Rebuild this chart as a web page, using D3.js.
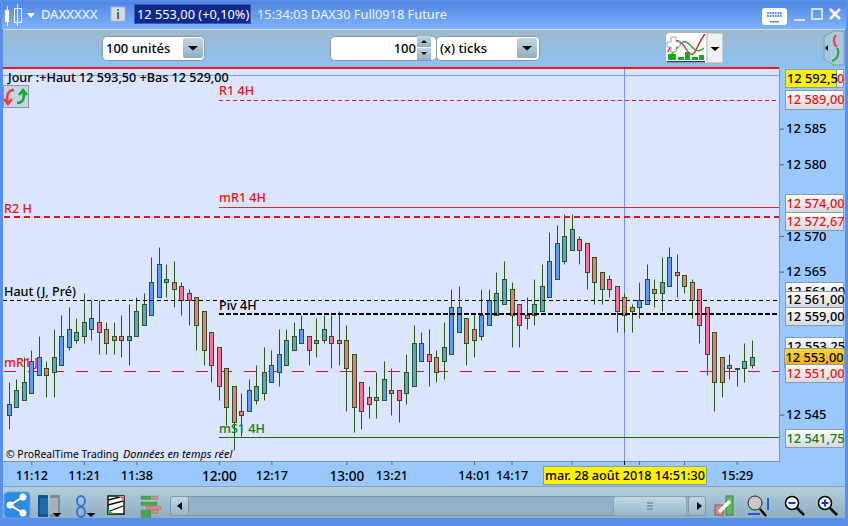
<!DOCTYPE html>
<html><head><meta charset="utf-8">
<style>html,body{margin:0;padding:0;background:#5b8ee6;overflow:hidden}svg{display:block}text{font-family:"Noto Sans",sans-serif}</style>
<script src="https://cdn.jsdelivr.net/npm/d3@7"></script></head><body><script>
const opens=[12545,12546,12547,12548,12550.5,12551.5,12551,12552,12554.5,12555.5,12556,12557,12558,12557,12556,12556,12555.5,12556,12557.5,12559,12561.5,12563.5,12563.5,12563,12562,12561.5,12559.5,12556.5,12554.5,12551.5,12549,12545.5,12545.5,12547,12548,12549.5,12551,12552,12554,12555,12556,12555,12555.5,12556,12555.5,12555.5,12553.5,12549.5,12547.5,12547,12547,12548.5,12548.5,12548,12549,12552.5,12553.5,12553,12552.5,12553.5,12556.5,12558.5,12557,12556,12557.5,12559,12560.5,12562.5,12560.5,12559,12559,12559.5,12561.5,12564,12566.5,12568,12569.5,12569,12567,12565,12564,12563,12561.5,12560,12560,12560.5,12562.5,12562,12563,12565,12564.5,12563.5,12562.5,12560,12556.5,12553,12551.5,12551.5,12551.5,12552];
const highs=[12549.5,12550,12553,12554,12556,12552.5,12557,12559,12560,12558.5,12562,12561,12561,12558,12558,12559,12560.5,12561.5,12562,12567,12568.5,12566,12566.5,12563.5,12562.5,12561.5,12559.5,12556.5,12554.5,12551.5,12549,12548,12550,12552,12554.5,12554,12557,12557,12558,12559,12556,12558.5,12559,12559,12559.5,12557.5,12553.5,12549.5,12549,12551,12552.5,12551.5,12548.5,12553.5,12557.5,12556.5,12557,12554,12558,12562.5,12563,12558.5,12559,12562.5,12562.5,12565,12566.5,12563.5,12560.5,12561.5,12564,12566,12570.5,12571.5,12573,12573,12570,12569,12567,12565,12564.5,12563,12562,12560.5,12563.5,12566,12564,12567,12568.5,12567.5,12564.5,12564,12562.5,12560,12556.5,12553,12553.5,12551.5,12555,12555.5];
const lows=[12543,12546,12547,12548,12550.5,12547.5,12547.5,12552,12554,12555,12555,12555.5,12553.5,12553.5,12553.5,12553,12552,12556,12557.5,12559,12561.5,12561.5,12560,12559,12557.5,12554,12552,12549.5,12547,12543.5,12540,12542,12545.5,12546.5,12547,12549.5,12549,12552,12554,12555,12552,12553,12555,12551.5,12552,12545.5,12542.5,12543,12544.5,12544.5,12547,12545,12544,12546.5,12549,12552.5,12549,12549.5,12550,12553.5,12556.5,12552,12553,12555.5,12557.5,12559,12560.5,12554.5,12554.5,12557,12557.5,12559.5,12561.5,12564,12566,12568,12566,12562.5,12560.5,12560.5,12561.5,12556.5,12556.5,12556.5,12558.5,12560.5,12560,12559.5,12563,12561.5,12562,12558.5,12555,12550.5,12545.5,12547.5,12550,12549,12549.5,12551.5];
const closes=[12546.5,12548.5,12549.5,12552.5,12553,12550.5,12553,12556,12557,12556.5,12558,12558.5,12556.5,12555,12555.5,12555.5,12556,12559.5,12560.5,12563.5,12566,12564,12562.5,12561,12561,12557.5,12554,12552,12549,12546,12544,12545,12548.5,12549,12551,12552,12553.5,12555.5,12556,12557,12554,12555.5,12557,12555,12555,12551.5,12546,12545.5,12546.5,12547.5,12550,12548,12547,12551,12555,12555,12552.5,12551,12554.5,12560,12560,12555,12555.5,12559,12561,12562,12564,12559,12557.5,12558.5,12560.5,12563,12566.5,12569,12570,12571,12568,12565,12563.5,12562.5,12562.5,12559.5,12559,12559.5,12561,12564,12562,12563.5,12567,12564.5,12563,12561,12557.5,12553.5,12549.5,12549.5,12552,12551.5,12552.5,12553];
const priceTicks=[12585,12580,12570,12565,12545];
const timeTickIdx=[3,10,17,28,35,45,51,62,67,75,84,90,97];
const timeTickLab=["11:12","11:21","11:38","12:00","12:17","13:00","13:21","14:01","14:17","","","","15:29"];
const levelNames=["Haut jour","Crosshair","R1 4H","mR1 4H","R2 H","Haut (J, Pré)","Piv 4H","mR1 J","mS1 4H"];
const levelValues=[12593.5,12592.5,12589,12574,12572.67,12561,12559,12551,12541.75];
const titleLine="Jour :+Haut 12 593,50 +Bas 12 529,00";

const W=848,H=526,FS=12.6;
const svg=d3.select("body").append("svg").attr("width",W).attr("height",H);
const defs=svg.append("defs");
function grad(id,stops){const g=defs.append("linearGradient").attr("id",id).attr("x1",0).attr("y1",0).attr("x2",0).attr("y2",1);
 stops.forEach(([o,c])=>g.append("stop").attr("offset",o).attr("stop-color",c));}
grad("gTitle",[[0,"#4f86e4"],[1,"#7fb3fb"]]);
grad("gTool",[[0,"#9cb9cb"],[1,"#8cc1f7"]]);
grad("gBot",[[0,"#b3d0dc"],[1,"#8eaec2"]]);
grad("gBox",[[0,"#ffffff"],[1,"#d5d8de"]]);
grad("gBtn",[[0,"#c4d8e2"],[1,"#8fb0c2"]]);
grad("gOrange",[[0,"#ffd83a"],[1,"#f0a800"]]);
grad("gThumb",[[0,"#c0d8e2"],[1,"#98b8ca"]]);

const rect=(x,y,w,h,f,o={})=>svg.append("rect").attr("x",x).attr("y",y).attr("width",w).attr("height",h).attr("fill",f).attr("stroke",o.s||"none").attr("stroke-width",o.sw||1).attr("rx",o.r||0);
const text=(x,y,t,o={})=>svg.append("text").attr("x",x).attr("y",y).text(t).attr("font-size",o.fs||FS).attr("fill",o.f||"#000").attr("font-weight",o.w||500).attr("font-style",o.i?"italic":"normal").attr("text-anchor",o.a||"start").attr("font-family",o.ff||null);
const path=(d,o={})=>svg.append("path").attr("d",d).attr("fill",o.f||"none").attr("stroke",o.s||"none").attr("stroke-width",o.sw||1).attr("stroke-linecap",o.c||"butt");
const tri=(x,y,w,h,f)=>path(`M${x-w},${y}h${2*w}l${-w},${h}z`,{f:f||"#000"});

// window chrome
rect(0,0,W,H,"#5b8ee6");
rect(2,2,W-4,27,"url(#gTitle)");
rect(3,30,W-6,38,"url(#gTool)");
rect(3,29,W-6,1,"#c9dcf0");
rect(780,68,65,393,"#99c8ff");
rect(3,461,842,25,"#99c8ff");
rect(3,486,842,32,"url(#gBot)");
rect(3,486,842,1,"#8aa0b0");

// plot area
rect(3,68,776,393,"#dbe5ff");
rect(779,68,1,394,"#7f94a8");
rect(3,461,777,1,"#7f94a8");

const x=d3.scaleLinear().domain([0,99]).range([9.3,752.1]);
const y=d3.scaleLinear().domain([12585,12545]).range([128.6,414.6]);
const lvY=l=>l.w==2?Math.round(y(levelValues[l.i])-.1):Math.floor(y(levelValues[l.i])+.05)+.5;

// crosshair
svg.append("line").attr("x1",3).attr("x2",779).attr("y1",lvY({i:1})).attr("y2",lvY({i:1})).attr("stroke","#7f9cf4");
const crossIdx=82;
svg.append("line").attr("x1",Math.floor(x(crossIdx))+.5).attr("x2",Math.floor(x(crossIdx))+.5).attr("y1",68).attr("y2",461).attr("stroke","#6f94f5");

const drawLv=(arr)=>arr.forEach(l=>{const yy=lvY(l);
 svg.append("line").attr("x1",l.x0).attr("x2",779).attr("y1",yy).attr("y2",yy).attr("stroke",l.c).attr("stroke-width",l.w).attr("stroke-dasharray",l.d||null);});
drawLv([{i:7,x0:4,c:"#d8102a",w:1,d:"12,12"}]);

// candles
const data=d3.range(opens.length).map(i=>({i,o:opens[i],h:highs[i],l:lows[i],c:closes[i]}));
const gC=svg.append("g").attr("class","candles");
const sn=v=>Math.round(v)+.5;
gC.selectAll("line").data(data).join("line")
 .attr("x1",d=>sn(x(d.i)-.5)).attr("x2",d=>sn(x(d.i)-.5)).attr("y1",d=>sn(y(d.h))).attr("y2",d=>sn(y(d.l)))
 .attr("stroke","#2a5a12");
gC.selectAll("rect").data(data).join("rect")
 .attr("x",d=>sn(x(d.i)-.5)-2).attr("width",4)
 .attr("y",d=>sn(y(Math.max(d.o,d.c))))
 .attr("height",d=>Math.max(1,sn(y(Math.min(d.o,d.c)))-sn(y(Math.max(d.o,d.c)))))
 .attr("fill",d=>d.c>=d.o?"#5a9cf5":"#fb6c96")
 .attr("stroke","#2a5a12");

drawLv([
 {i:0,x0:3,c:"#f01818",w:2},
 {i:2,x0:219,c:"#f01818",w:1,d:"4,3"},
 {i:3,x0:219,c:"#c83030",w:1},
 {i:4,x0:4,c:"#f40a0a",w:2,d:"6,4"},
 {i:5,x0:3,c:"#000",w:1,d:"4,3"},
 {i:6,x0:219,c:"#000",w:2,d:"5,2"},
 {i:8,x0:219,c:"#1a6e1a",w:1}
]);

// level labels
text(219,95,"R1 4H",{f:"#f01010"});
text(219,202,"mR1 4H",{f:"#f01010"});
text(4,213,"R2 H",{f:"#f01010"});
text(4,296,"Haut (J, Pré)");
text(219,310,"Piv 4H");
text(4,367,"mR1 J",{f:"#f01010"});
text(219,433,"mS1 4H",{f:"#108010"});
text(8,82,titleLine);
text(6,458,"© ProRealTime Trading",{fs:10.4,w:400});
text(123,458,"Données en temps réel",{fs:10.9,i:true,w:400});

// reload icon in plot
rect(3.5,85.5,25,22,"#c4d3e6",{s:"#8a98a8"});
path("M14,90c-6,0 -8,5 -6,13M4,99l4,5 4,-5",{s:"#ee4040",sw:2.6});
path("M17,103c6,0 8,-5 6,-12M19,95l4,-5 4,5",{s:"#18a838",sw:2.6});

// right axis
const axR=svg.append("g").attr("transform","translate(780,0)").call(d3.axisRight(y).tickValues(priceTicks).tickSize(4).tickPadding(2)
 .tickFormat(d=>d3.format(",")(d).replace(","," ")));
axR.select(".domain").remove();
axR.selectAll("line").attr("stroke","#4c6070");
axR.selectAll("text").attr("font-size",13).attr("font-weight",500).attr("font-family",'"Noto Sans",sans-serif').attr("fill","#000");

function pbox(xx,yy,w,h,t,col,fill){
 rect(xx+.5,yy+.5,w,h,fill||"url(#gBox)",{s:"#8a9aa8"});
 text(xx+1.5,yy+h/2+4.5,t,{f:col,fs:12.8});
}
pbox(785,90,58,19,"12 589,00","#f01010");
pbox(785,194,58,18,"12 574,00","#f01010");
pbox(785,212,58,18,"12 572,67","#f01010");
rect(785.5,282.5,58,20,"url(#gBox)",{s:"#8a9aa8"});
text(787,295.5,"12 561,00",{fs:12.8});
pbox(785,291,58,16,"12 561,00","#000");
pbox(785,307,58,18,"12 559,00","#000");
rect(785.5,337.5,58,20,"url(#gBox)",{s:"#8a9aa8"});
text(787,351,"12 553,25",{fs:12.8});
pbox(784,348,60,19,"12 553,00","#000","url(#gOrange)");
pbox(785,364,58,18,"12 551,00","#f01010");
pbox(785,429,58,18,"12 541,75","#108010");
rect(836.5,69.5,7,18,"url(#gBox)",{s:"#8a9aa8"});
text(837,83,"0",{f:"#f01010",fs:12.8});
rect(785.5,69.5,51,18,"#fff200",{s:"#8a9aa8"});
text(787,83,"12 592,5",{fs:12.8});

// bottom axis
const axB=svg.append("g").attr("transform","translate(0,461)").call(d3.axisBottom(x).offset(0).tickValues(timeTickIdx).tickSize(4).tickPadding(6)
 .tickFormat(d=>timeTickLab[timeTickIdx.indexOf(d)]));
axB.select(".domain").remove();
axB.selectAll("line").attr("stroke","#607080");
axB.selectAll("text").attr("font-size",d=>(d==28||d==45)?13.6:12.6).attr("font-weight",500).attr("font-family",'"Noto Sans",sans-serif').attr("fill","#000");
rect(543.5,466.5,163,18,"#fff200",{s:"#8a9aa8"});
text(625,480,"mar. 28 août 2018 14:51:30",{a:"middle",fs:12.6});
rect(624,461,1,4,"#000");

// title bar
rect(5,10,4,12,"#fff");rect(7,6,1,20,"#fff");
rect(14.5,8.5,7,14,"none",{s:"#fff"});rect(17,4,1,22,"#fff");
tri(31,13,4,5,"#fff");
text(41,19,"DAXXXXX",{f:"#e8f0ff",fs:12.8});
rect(111,7,14,14,"#d8dde4",{s:"#aeb6c0"});
text(118,19,"i",{a:"middle",f:"#555",w:700,fs:12,ff:"serif"});
rect(134.5,4.5,116,19,"#0f2a88",{s:"#3a5ac0"});
text(137,19,"12 553,00 (+0,10%)",{f:"#fff",fs:12.8,w:400});
text(257,19,"15:34:03 DAX30 Full0918 Future",{f:"#f0f5ff",fs:12.8,w:400});
rect(762,8,25,17,"#fff",{r:3});
for(let r=0;r<2;r++)for(let c=0;c<6;c++)rect(767+c*2.6,12+r*3,1.8,2,"#5a8ee6");
rect(770,21,9,1.5,"#5a8ee6");
rect(794,19,11,2,"#dbe8ff");
rect(812,9,10,10,"none",{s:"#cfe0ff",sw:2});
path("M830,9l10,10M840,9l-10,10",{s:"#fff",sw:2.5});

// toolbar
function combo(x0,w,t){rect(x0+.5,36.5,w,24,"#fff",{s:"#8a98a4",r:4});
 text(x0+4,53,t,{fs:13});}
function dropBtn(x0){rect(x0,38,20,20,"url(#gBtn)",{r:2});tri(x0+10,46,5,4.5,"#000");}
combo(102,102,"100 unités");dropBtn(183);
rect(330.5,36.5,106,24,"#fff",{s:"#8a98a4",r:4});
text(416,53,"100",{a:"end",fs:13});
rect(417,36,14,11,"url(#gBtn)");rect(417,48,14,12,"url(#gBtn)");
path("M421,43l3,-3 3,3z",{f:"#000"});path("M421,52l3,3 3,-3z",{f:"#000"});
combo(436,103,"(x) ticks");dropBtn(517);
rect(665.5,32.5,58,31,"#fff",{s:"#a8b4bc",r:4});
rect(707,33,16,30,"#eef0f2",{s:"#a8b4bc"});
tri(715,47,4.5,4,"#000");
path("M668,52c6,-14 10,-14 16,-6 5,8 8,12 12,4 3,-6 5,-11 9,-16",{s:"#d02828",sw:1.4});
path("M669,56c8,-4 10,-16 17,-14 6,2 9,14 18,6",{s:"#25a030",sw:1.4});
path("M667,42h4v-5h5v5h4v5h-4v5h-5v-5h-4z",{f:"#fff",s:"#9aa6b0"});
[[668,54,8,6],[678,57,6,3],[685,52,5,8],[692,57,6,3],[699,55,5,5]].forEach(([a,b,c,d])=>rect(a,b,c,d,"#10b018"));
rect(667,61,38,1.5,"#2030a0");
path("M834,31l10,0l0,34l-10,0l-10,-6l0,-22z",{f:"#a9c8e0",s:"#8298ac"});
path("M825,48l3,-3v6z",{f:"#000"});
path("M836,35c-4,5 -2,9 1,12",{s:"#ee4040",sw:2});
path("M837,48c3,4 1,11 -5,13",{s:"#18a838",sw:2});

// bottom toolbar
rect(4,492,26,26,"#2e8ade",{r:4,s:"#5fa8e8"});
path("M23,497L10,505L23,513",{s:"#fff",sw:2});
[[23,497],[10,505],[23,513]].forEach(([a,b])=>svg.append("circle").attr("cx",a).attr("cy",b).attr("r",3.5).attr("fill","#fff"));
rect(38,495,10,22,"#12508e",{r:1});rect(40,498,8,16,"#1c6ab0");
rect(50,495,10,22,"#808a92",{r:1});rect(50,498,8,16,"#a8b0b6");
tri(57,513,4.5,4,"#000");
svg.append("ellipse").attr("cx",81).attr("cy",501).attr("rx",4).attr("ry",5).attr("fill","none").attr("stroke","#3a72d8").attr("stroke-width",2);
svg.append("ellipse").attr("cx",81).attr("cy",512).attr("rx",4).attr("ry",5).attr("fill","none").attr("stroke","#3a72d8").attr("stroke-width",2);
tri(91,513,4.5,4,"#000");
rect(108,496,16,18,"#fff",{s:"#111",sw:1.5});
path("M108,500l12,-3M108,505l15,-4M110,511l13,-5",{s:"#111",sw:1.3});
path("M118,496h6v5z",{f:"#e87878"});path("M108,514v-5l6,5z",{f:"#28b040"});
[[141,496,10,"#38b040"],[152,496,6,"#e88080"],[141,502,16,"#38b040"],[146,506,15,"#e88080"],[141,510,10,"#38b040"],[152,510,6,"#e88080"],[141,514,10,"#38b040"]].forEach(([a,b,w,c])=>rect(a,b,w,3.5,c,{s:"#606860",sw:.3}));

rect(170.5,496.5,535,19,"#93b1c4",{s:"#7f98a8",r:3});
rect(170.5,496.5,18,19,"url(#gThumb)",{s:"#8298a8",r:3});
path("M182,502v8l-5,-4z",{f:"#000"});
rect(613.5,496.5,73,19,"url(#gThumb)",{s:"#8fa4b2",r:3});
path("M647,503h6M647,506h6M647,509h6",{s:"#5a7082"});
rect(688.5,496.5,17,19,"url(#gThumb)",{s:"#8298a8",r:3});
path("M697,502v8l5,-4z",{f:"#000"});

rect(715,505,8,10,"#e88080",{s:"#666"});rect(726,496,7,19,"#50c050",{s:"#666"});
path("M719,512l11,-11",{s:"#fff",sw:3.5});
svg.append("circle").attr("cx",755).attr("cy",503).attr("r",7).attr("fill","#c8c8c8").attr("stroke","#222");
path("M760,509l6,7",{s:"#000",sw:2.5});
path("M768,498v12M748,514h12",{s:"#1030e0",sw:1.5});
[[792,"−"],[825,"+"]].forEach(([a,s])=>{
 svg.append("circle").attr("cx",a).attr("cy",503).attr("r",6.5).attr("fill","#fff").attr("stroke","#000").attr("stroke-width",1.5);
 path(`M${a+5},${508}l7,7`,{s:"#000",sw:2.5});
 path(s=="+"?`M${a-3.5},503h7M${a},499.5v7`:`M${a-3.5},503h7`,{s:"#1030e0",sw:2});
});
</script></body></html>
